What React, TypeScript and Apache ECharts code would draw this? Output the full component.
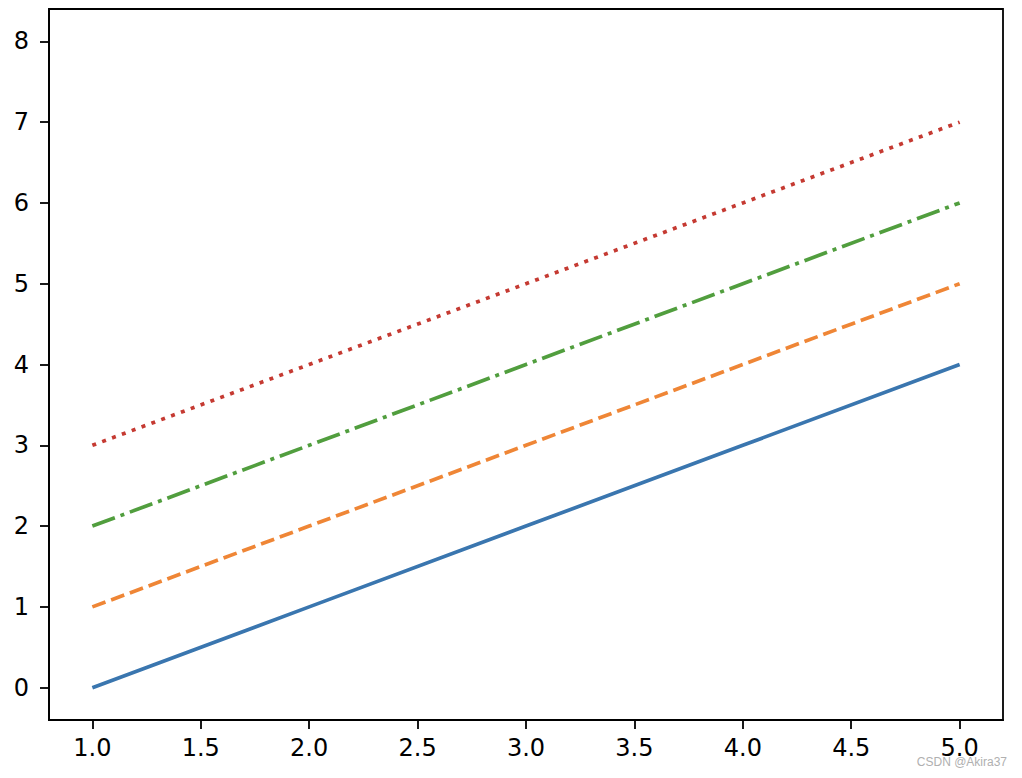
import React, { useEffect, useRef } from "react";
import * as echarts from "echarts";

const xValues = [1, 2, 3, 4, 5];
const seriesSolid = [0, 1, 2, 3, 4];
const seriesDashed = [1, 2, 3, 4, 5];
const seriesDashDot = [2, 3, 4, 5, 6];
const seriesDotted = [3, 4, 5, 6, 7];
const xTicks = [1.0, 1.5, 2.0, 2.5, 3.0, 3.5, 4.0, 4.5, 5.0];
const yTicks = [0, 1, 2, 3, 4, 5, 6, 7, 8];

const FONT = "DejaVu Sans";

export default function App() {
  const ref = useRef<HTMLDivElement>(null);
  useEffect(() => {
    if (!ref.current) return;
    const chart = echarts.init(ref.current, null, { renderer: "svg" });
    const mk = (vals: number[], color: string, type: any, name: string) => ({
      name,
      type: "line",
      data: xValues.map((x, i) => [x, vals[i]]),
      showSymbol: false,
      symbol: "none",
      lineStyle: { color, width: 3.7, type, cap: "butt" },
      z: 3,
    });
    chart.setOption({
      animation: false,
      backgroundColor: "#ffffff",
      grid: {
        left: 49,
        right: 19,
        top: 9,
        bottom: 58,
        show: true,
        borderColor: "#000",
        borderWidth: 1.8,
        backgroundColor: "transparent",
      },
      xAxis: {
        type: "value",
        min: 0.8,
        max: 5.2,
        splitLine: { show: false },
        axisLine: { show: true, onZero: false, lineStyle: { color: "#000", width: 1.8 } },
        axisTick: {
          show: true,
          length: 9,
          lineStyle: { color: "#000", width: 1.8 },
          customValues: xTicks,
        },
        axisLabel: {
          color: "#000",
          fontFamily: FONT,
          fontSize: 24,
          margin: 16,
          customValues: xTicks,
          formatter: (v: number) => v.toFixed(1),
        },
      },
      yAxis: {
        type: "value",
        min: -0.4,
        max: 8.4,
        splitLine: { show: false },
        axisLine: { show: true, onZero: false, lineStyle: { color: "#000", width: 1.8 } },
        axisTick: {
          show: true,
          length: 9,
          lineStyle: { color: "#000", width: 1.8 },
          customValues: yTicks,
        },
        axisLabel: {
          color: "#000",
          fontFamily: FONT,
          fontSize: 24,
          margin: 20,
          customValues: yTicks,
          formatter: (v: number) => String(v),
        },
      },
      series: [
        mk(seriesSolid, "#3a76af", "solid", "solid"),
        mk(seriesDashed, "#ef8636", [14, 6], "dashed"),
        mk(seriesDashDot, "#519e3e", [24, 6, 4, 6], "dashdot"),
        mk(seriesDotted, "#c53a32", [4, 6.5], "dotted"),
      ],
      graphic: [
        {
          type: "text",
          right: 15,
          top: 756,
          style: {
            text: "CSDN @Akira37",
            fill: "#b0b0b0",
            font: "12px Arial, 'Liberation Sans', sans-serif",
          },
          z: 10,
        },
      ],
    });
    return () => chart.dispose();
  }, []);
  return (
    <div
      ref={ref}
      style={{ position: "fixed", left: 0, top: 0, width: 1022, height: 778 }}
    />
  );
}
